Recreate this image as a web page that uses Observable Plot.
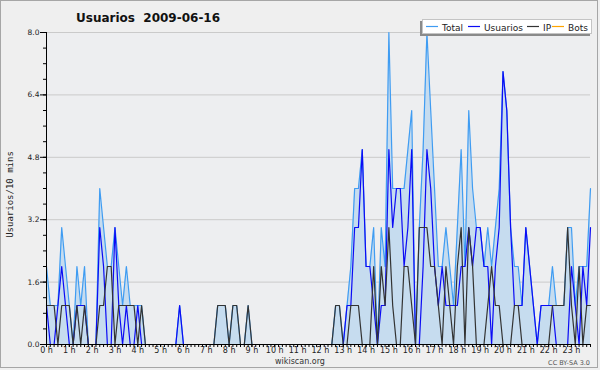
<!DOCTYPE html>
<html><head><meta charset="utf-8">
<script src="https://cdn.jsdelivr.net/npm/d3@7"></script>
<script src="https://cdn.jsdelivr.net/npm/@observablehq/plot@0.6"></script>
<style>
html,body{margin:0;padding:0;background:#f4f4f4;}
#wrap{position:relative;width:600px;height:370px;background:#efefef;overflow:hidden;}
#chart{position:absolute;left:0;top:0;}
#over{position:absolute;left:0;top:0;pointer-events:none;}
</style></head>
<body><div id="wrap"><div id="chart"></div>
<svg id="over" width="600" height="370" xmlns="http://www.w3.org/2000/svg">
  <rect x="0.5" y="0.5" width="597" height="367" fill="none" stroke="#a6a6a6"/>
  <text x="76" y="22" font-family="DejaVu Sans" font-weight="bold" font-size="12" fill="#111" style="white-space:pre">Usuarios  2009-06-16</text>
  <text transform="translate(13,194.5) rotate(-90)" text-anchor="middle" font-family="DejaVu Sans Mono" font-size="9" fill="#222">Usuarios/10 mins</text>
  <rect x="420" y="21" width="170" height="15" fill="#8a8a8a"/>
  <rect x="422.5" y="19.5" width="169" height="14" fill="#fff" stroke="#c4c4c4"/>
  <g font-family="DejaVu Sans" font-size="9" fill="#222">
    <line x1="426" x2="438" y1="26.5" y2="26.5" stroke="#3f9cf2" stroke-width="1.2"/>
    <text x="442" y="30.5">Total</text>
    <line x1="468" x2="480" y1="26.5" y2="26.5" stroke="#0b0bf5" stroke-width="1.2"/>
    <text x="484" y="30.5">Usuarios</text>
    <line x1="527" x2="539" y1="26.5" y2="26.5" stroke="#333" stroke-width="1.2"/>
    <text x="543" y="30.5">IP</text>
    <line x1="552" x2="564" y1="26.5" y2="26.5" stroke="#ffa500" stroke-width="1.2"/>
    <text x="568" y="30.5">Bots</text>
  </g>
  <text x="300" y="364" text-anchor="middle" font-family="DejaVu Sans" font-size="8" fill="#333">wikiscan.org</text>
  <text x="590" y="365" text-anchor="end" font-family="DejaVu Sans" font-size="6.5" fill="#555">CC BY-SA 3.0</text>
</svg></div>
<script>
// 10-minute intervals, 2009-06-16 (144 points)
const total = [
  2,1,1,1,3,2,1,0,2,1,2,0,0,0,4,3,2,2,3,2,1,2,1,1,
  1,1,0,0,0,0,0,0,0,0,0,1,0,0,0,0,0,0,0,0,0,1,1,1,
  0,1,1,0,0,1,0,0,0,0,0,0,0,0,0,0,0,0,0,0,0,0,0,0,
  0,0,0,0,1,1,0,1,2,4,4,5,2,2,3,0,3,2,8,4,4,4,4,5,
  6,0,3,5,8,6,4,2,2,3,2,1,3,5,2,6,4,3,3,2,3,2,3,4,
  7,6,3,2,2,1,3,2,1,0,1,1,1,2,1,1,1,3,3,1,2,2,2,4
];
const usuarios = [
  1,0,0,1,2,1,0,0,1,1,1,0,0,0,3,2,0,0,3,1,0,1,0,0,
  1,0,0,0,0,0,0,0,0,0,0,1,0,0,0,0,0,0,0,0,0,0,0,0,
  0,0,0,0,0,0,0,0,0,0,0,0,0,0,0,0,0,0,0,0,0,0,0,0,
  0,0,0,0,0,0,0,1,1,3,3,5,2,2,1,0,1,1,5,3,4,4,2,3,
  5,0,0,2,5,4,2,1,2,1,1,1,1,2,2,3,2,3,3,2,2,0,2,3,
  7,6,3,1,1,1,3,2,1,0,1,1,1,1,0,0,0,0,2,1,0,2,1,3
];
const ip = [
  1,1,1,0,1,1,1,0,1,0,1,0,0,0,1,1,2,2,0,1,1,1,1,1,
  0,1,0,0,0,0,0,0,0,0,0,0,0,0,0,0,0,0,0,0,0,1,1,1,
  0,1,1,0,0,1,0,0,0,0,0,0,0,0,0,0,0,0,0,0,0,0,0,0,
  0,0,0,0,1,1,0,0,1,1,1,0,0,0,2,0,2,1,3,1,0,0,2,2,
  1,0,3,3,3,2,2,1,0,2,1,0,2,3,0,3,2,0,0,0,1,2,1,1,
  0,0,0,1,1,0,0,0,0,0,0,0,0,1,1,1,1,3,1,0,2,0,1,1
];
const bots = [
  0,0,0,0,0,0,0,0,0,0,0,0,0,0,0,0,0,0,0,0,0,0,0,0,
  0,0,0,0,0,0,0,0,0,0,0,0,0,0,0,0,0,0,0,0,0,0,0,0,
  0,0,0,0,0,0,0,0,0,0,0,0,0,0,0,0,0,0,0,0,0,0,0,0,
  0,0,0,0,0,0,0,0,0,0,0,0,0,0,0,0,0,0,0,0,0,0,0,0,
  0,0,0,0,0,0,0,0,0,0,0,0,0,0,0,0,0,0,0,0,0,0,0,0,
  0,0,0,0,0,0,0,0,0,0,0,0,0,0,0,0,0,0,0,0,0,0,0,0
];
const hourLabels = ["0 h","1 h","2 h","3 h","4 h","5 h","6 h","7 h","8 h","9 h","10 h","11 h",
  "12 h","13 h","14 h","15 h","16 h","17 h","18 h","19 h","20 h","21 h","22 h","23 h"];
const yMajor = [0, 1.6, 3.2, 4.8, 6.4, 8.0];
const yGrid = [1.6, 3.2, 4.8, 6.4, 8.0];

const data = total.map((t, k) => ({slot: k, total: t, usuarios: usuarios[k], ip: ip[k], bots: bots[k]}));
const slots = data.map(d => d.slot);
const hourSlots = hourLabels.map((h, k) => k * 6);
const yMinor = d3.range(0, 8.0001, 0.4);

const chart = Plot.plot({
  width: 600, height: 370,
  marginLeft: 46, marginRight: 10, marginTop: 32, marginBottom: 26,
  style: {background: "transparent", fontFamily: "DejaVu Sans", color: "#222", overflow: "visible"},
  x: {domain: [0, 143], axis: null, label: null},
  y: {domain: [0, 8], axis: null, label: null},
  marks: [
    Plot.frame({fill: "#edeef0", stroke: null}),
    Plot.ruleY(yGrid, {stroke: "#cacaca", strokeWidth: 1}),
    Plot.areaY(data, {x: "slot", y: "total", fill: "#c6dcef"}),
    Plot.lineY(data, {x: "slot", y: "total", stroke: "#3f9cf2", strokeWidth: 1.2}),
    Plot.lineY(data, {x: "slot", y: "usuarios", stroke: "#0b0bf5", strokeWidth: 1.2}),
    Plot.lineY(data, {x: "slot", y: "ip", stroke: "#333", strokeWidth: 1.2}),
    Plot.lineY(data, {x: "slot", y: "bots", stroke: "#ffa500", strokeWidth: 1.2}),
    Plot.axisY(yMinor, {anchor: "left", tickSize: 3, tickFormat: () => "", label: null, stroke: "#000"}),
    Plot.axisY(yMajor, {anchor: "left", tickSize: 6, tickPadding: 1, tickFormat: d => d.toFixed(1), fontSize: 7.5, label: null, stroke: "#000"}),
    Plot.axisX(slots, {anchor: "bottom", tickSize: 3, tickFormat: () => "", label: null, stroke: "#000"}),
    Plot.axisX(hourSlots, {anchor: "bottom", tickSize: 3, tickPadding: 0, tickFormat: d => hourLabels[Math.round(d / 6)], fontSize: 8, label: null, stroke: "#000"}),
    Plot.ruleX([0], {stroke: "#000"}),
    Plot.ruleY([0], {stroke: "#000"})
  ]
});
document.getElementById("chart").appendChild(chart);
</script>
</body></html>
